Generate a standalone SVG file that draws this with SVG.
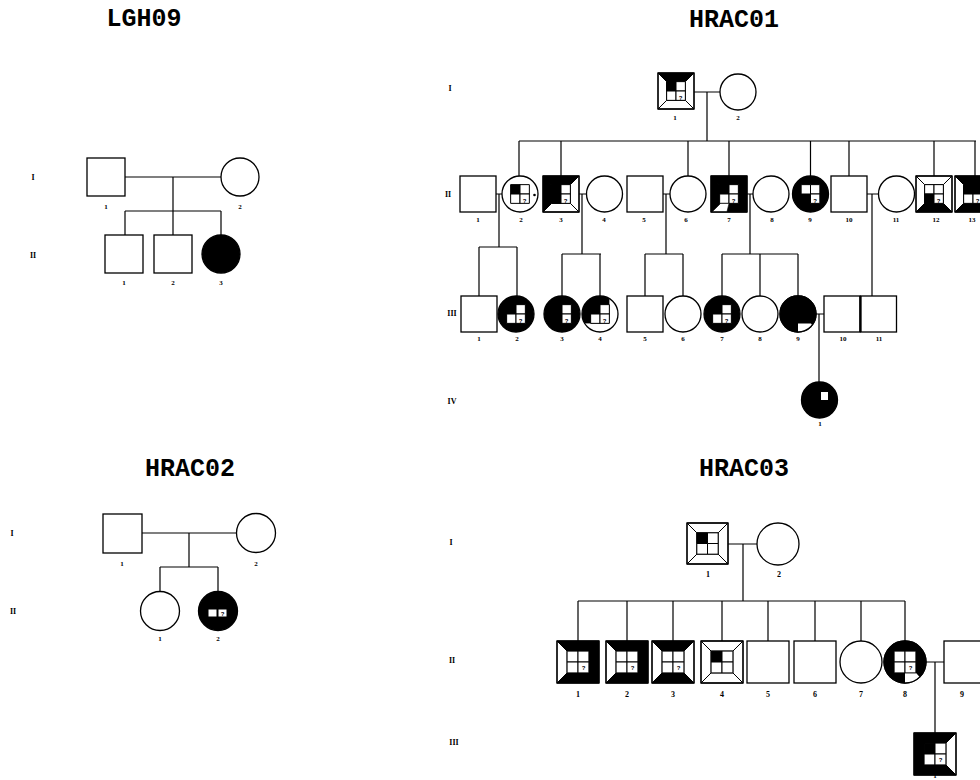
<svg xmlns="http://www.w3.org/2000/svg" width="980" height="780" viewBox="0 0 980 780">
  <style>
    .title{font-family:"Liberation Mono",monospace;font-weight:bold;font-size:25px;text-anchor:middle;fill:#000}
    .gen{font-family:"Liberation Serif",serif;font-weight:bold;font-size:8px;text-anchor:middle;fill:#000}
    .n{font-family:"Liberation Serif",serif;font-weight:bold;font-size:7px;text-anchor:middle;fill:#000}
    .n3{font-family:"Liberation Serif",serif;font-weight:bold;font-size:8px;text-anchor:middle;fill:#000}
    .q{font-family:"Liberation Sans",sans-serif;font-weight:bold;font-size:6px;text-anchor:middle;fill:#000}
    .sq{fill:#fff;stroke:#000;stroke-width:1.3}
    .af{fill:#000;stroke:#000;stroke-width:1.3}
    .ol{fill:none;stroke:#000;stroke-width:1.3}
    .k{fill:#000;stroke:#000;stroke-width:1}
    .w{fill:#fff;stroke:#000;stroke-width:1}
    .cn path{fill:none;stroke:#000;stroke-width:1.2}
  </style>
  <defs>
    <!-- bevelled frame pieces and inner quadrants on a 100x100 unit box -->
    <polygon id="tT" points="0,0 100,0 76,24 24,24" vector-effect="non-scaling-stroke"/>
    <polygon id="tB" points="0,100 100,100 76,76 24,76" vector-effect="non-scaling-stroke"/>
    <polygon id="tL" points="0,0 24,24 24,76 0,100" vector-effect="non-scaling-stroke"/>
    <polygon id="tR" points="100,0 76,24 76,76 100,100" vector-effect="non-scaling-stroke"/>
    <rect id="qTL" x="24" y="24" width="26" height="26" vector-effect="non-scaling-stroke"/>
    <rect id="qTR" x="50" y="24" width="26" height="26" vector-effect="non-scaling-stroke"/>
    <rect id="qBL" x="24" y="50" width="26" height="26" vector-effect="non-scaling-stroke"/>
    <rect id="qBR" x="50" y="50" width="26" height="26" vector-effect="non-scaling-stroke"/>
    <rect id="box" x="0" y="0" width="100" height="100" fill="none" vector-effect="non-scaling-stroke"/>
    <clipPath id="clipA4"><circle cx="600" cy="314" r="18"/></clipPath>
    <clipPath id="clipA9"><circle cx="798" cy="314" r="18"/></clipPath>
    <clipPath id="clipC8"><circle cx="905" cy="662" r="21"/></clipPath>
  </defs>

  <!-- ============ LGH09 ============ -->
  <text class="title" x="144" y="26">LGH09</text>
  <text class="gen" x="33" y="180">I</text>
  <text class="gen" x="33" y="258">II</text>
  <g class="cn" id="lgh09-lines">
    <path d="M125 177H221M173 177V211M125 211H221M125 211V235M173 211V235M221 211V235"/>
  </g>
  <g id="lgh09-I-1"><rect class="sq" x="87" y="158" width="38" height="38"/><text class="n" x="106" y="209">1</text></g>
  <g id="lgh09-I-2"><circle class="sq" cx="240" cy="177" r="19"/><text class="n" x="240" y="209">2</text></g>
  <g id="lgh09-II-1"><rect class="sq" x="105" y="235" width="38" height="38"/><text class="n" x="124" y="285">1</text></g>
  <g id="lgh09-II-2"><rect class="sq" x="154" y="235" width="38" height="38"/><text class="n" x="173" y="285">2</text></g>
  <g id="lgh09-II-3"><circle class="af" cx="221" cy="254" r="19"/><text class="n" x="221" y="285">3</text></g>

  <!-- ============ HRAC01 ============ -->
  <text class="title" x="734" y="27">HRAC01</text>
  <text class="gen" x="450" y="91">I</text>
  <text class="gen" x="448" y="197">II</text>
  <text class="gen" x="452" y="316">III</text>
  <text class="gen" x="452" y="404">IV</text>
  <g class="cn" id="hrac01-lines">
    <path d="M694 92H720M707 92V141M519 141H976"/>
    <path d="M519 141V176M561 141V176M688 141V176M729 141V176M810.5 141V176M849 141V176M934 141V176M975 141V176"/>
    <path d="M496 194H502M579 194H586.5M663 194H670M747 194H753M867 194H878.5"/>
    <path d="M499 194V247M479 247H517M479 247V296M517 247V296"/>
    <path d="M582 194V254M562 254H601M562 254V296M600 254V296"/>
    <path d="M666 194V254M645 254H683M645 254V296M683 254V296"/>
    <path d="M750 194V254M722 254H798M722 254V296M760 254V296M798 254V296"/>
    <path d="M872 194V296"/>
    <path d="M816 314H824M819 314V382"/>
  </g>

  <g id="hrac01-I-1">
    <g transform="translate(658,73) scale(0.36)">
      <use href="#tT" class="k"/><use href="#tL" class="w"/><use href="#tR" class="w"/><use href="#tB" class="w"/>
      <use href="#qTL" class="k"/><use href="#qTR" class="w"/><use href="#qBL" class="w"/><use href="#qBR" class="w"/>
      <use href="#box" class="ol"/>
    </g>
    <text class="q" x="680.7" y="100">?</text>
    <text class="n" x="675" y="120">1</text>
  </g>
  <g id="hrac01-I-2"><circle class="sq" cx="738" cy="92" r="18"/><text class="n" x="738" y="120">2</text></g>

  <g id="hrac01-II-1"><rect class="sq" x="460" y="176" width="36" height="36"/><text class="n" x="478" y="222">1</text></g>
  <g id="hrac01-II-2">
    <circle class="sq" cx="520" cy="194" r="18"/>
    <g transform="translate(502,176) scale(0.36)">
      <use href="#qTL" class="k"/><use href="#qTR" class="w"/><use href="#qBL" class="w"/><use href="#qBR" class="w"/>
    </g>
    <text class="q" x="524.7" y="203">?</text>
    <circle cx="534.5" cy="195" r="1.3" fill="#000"/>
    <text class="n" x="521" y="222">2</text>
  </g>
  <g id="hrac01-II-3">
    <g transform="translate(543,176) scale(0.36)">
      <use href="#tT" class="k"/><use href="#tL" class="k"/><use href="#tR" class="w"/><use href="#tB" class="w"/>
      <use href="#qTL" class="k"/><use href="#qTR" class="w"/><use href="#qBL" class="k"/><use href="#qBR" class="w"/>
      <use href="#box" class="ol"/>
    </g>
    <text class="q" x="565.7" y="203">?</text>
    <text class="n" x="561" y="222">3</text>
  </g>
  <g id="hrac01-II-4"><circle class="sq" cx="604.5" cy="194" r="18"/><text class="n" x="604" y="222">4</text></g>
  <g id="hrac01-II-5"><rect class="sq" x="627" y="176" width="36" height="36"/><text class="n" x="644" y="222">5</text></g>
  <g id="hrac01-II-6"><circle class="sq" cx="688" cy="194" r="18"/><text class="n" x="686" y="222">6</text></g>
  <g id="hrac01-II-7">
    <g transform="translate(711,176) scale(0.36)">
      <use href="#tT" class="k"/><use href="#tL" class="k"/><use href="#tR" class="k"/><use href="#tB" class="k"/>
      <use href="#qTL" class="k"/><use href="#qTR" class="w"/><use href="#qBL" class="w"/><use href="#qBR" class="w"/>
      <use href="#box" class="ol"/>
    </g>
    <polygon points="712.5,211.5 720.6,203.4 729,203.4 727,211.5" fill="#fff" stroke="#000" stroke-width="0.6"/>
    <text class="q" x="733.7" y="203">?</text>
    <circle cx="742" cy="192" r="0.9" fill="#000"/>
    <text class="n" x="729" y="222">7</text>
  </g>
  <g id="hrac01-II-8"><circle class="sq" cx="771" cy="194" r="18"/><text class="n" x="772" y="222">8</text></g>
  <g id="hrac01-II-9">
    <circle class="af" cx="810.5" cy="194" r="18"/>
    <g transform="translate(792.5,176) scale(0.36)">
      <use href="#qTL" class="w"/><use href="#qTR" class="w"/><use href="#qBR" class="w"/>
    </g>
    <text class="q" x="815.2" y="203">?</text>
    <text class="n" x="810" y="222">9</text>
  </g>
  <g id="hrac01-II-10"><rect class="sq" x="831" y="176" width="36" height="36"/><text class="n" x="849" y="222">10</text></g>
  <g id="hrac01-II-11"><circle class="sq" cx="896.5" cy="194" r="18"/><text class="n" x="896" y="222">11</text></g>
  <g id="hrac01-II-12">
    <g transform="translate(916,176) scale(0.36)">
      <use href="#tT" class="w"/><use href="#tL" class="w"/><use href="#tR" class="w"/><use href="#tB" class="k"/>
      <use href="#qTL" class="w"/><use href="#qTR" class="w"/><use href="#qBL" class="k"/><use href="#qBR" class="w"/>
      <use href="#box" class="ol"/>
    </g>
    <text class="q" x="938.7" y="203">?</text>
    <text class="n" x="936" y="222">12</text>
  </g>
  <g id="hrac01-II-13">
    <g transform="translate(955,176) scale(0.36)">
      <use href="#tT" class="k"/><use href="#tL" class="w"/><use href="#tR" class="k"/><use href="#tB" class="k"/>
      <use href="#qTL" class="k"/><use href="#qTR" class="k"/><use href="#qBL" class="w"/><use href="#qBR" class="w"/>
      <use href="#box" class="ol"/>
    </g>
    <text class="q" x="977.7" y="203">?</text>
    <text class="n" x="972" y="222">13</text>
  </g>

  <g id="hrac01-III-1"><rect class="sq" x="461" y="296" width="36" height="36"/><text class="n" x="479" y="341">1</text></g>
  <g id="hrac01-III-2">
    <circle class="af" cx="516" cy="314" r="18"/>
    <g transform="translate(498,296) scale(0.36)">
      <use href="#qTR" class="w"/><use href="#qBL" class="w"/><use href="#qBR" class="w"/>
    </g>
    <text class="q" x="520.7" y="323">?</text>
    <text class="n" x="517" y="341">2</text>
  </g>
  <g id="hrac01-III-3">
    <circle class="af" cx="562" cy="314" r="18"/>
    <g transform="translate(544,296) scale(0.36)">
      <use href="#qTR" class="w"/><use href="#qBR" class="w"/>
    </g>
    <text class="q" x="566.7" y="323">?</text>
    <text class="n" x="562" y="341">3</text>
  </g>
  <g id="hrac01-III-4">
    <circle cx="600" cy="314" r="18" fill="#fff"/>
    <rect x="582" y="296" width="27.4" height="27.4" fill="#000" clip-path="url(#clipA4)"/>
    <circle class="ol" cx="600" cy="314" r="18"/>
    <g transform="translate(582,296) scale(0.36)">
      <use href="#qTR" class="w"/><use href="#qBL" class="w"/><use href="#qBR" class="w"/>
    </g>
    <text class="q" x="604.7" y="323">?</text>
    <text class="n" x="600" y="341">4</text>
  </g>
  <g id="hrac01-III-5"><rect class="sq" x="627" y="296" width="36" height="36"/><text class="n" x="645" y="341">5</text></g>
  <g id="hrac01-III-6"><circle class="sq" cx="683" cy="314" r="18"/><text class="n" x="683" y="341">6</text></g>
  <g id="hrac01-III-7">
    <circle class="af" cx="722" cy="314" r="18"/>
    <g transform="translate(704,296) scale(0.36)">
      <use href="#qTR" class="w"/><use href="#qBL" class="w"/><use href="#qBR" class="w"/>
    </g>
    <text class="q" x="726.7" y="323">?</text>
    <text class="n" x="722" y="341">7</text>
  </g>
  <g id="hrac01-III-8"><circle class="sq" cx="760" cy="314" r="18"/><text class="n" x="760" y="341">8</text></g>
  <g id="hrac01-III-9">
    <circle class="af" cx="798" cy="314" r="18"/>
    <polygon points="798,323.4 811,323.4 818,333 798,333" fill="#fff" clip-path="url(#clipA9)"/>
    <circle class="ol" cx="798" cy="314" r="18"/>
    <text class="n" x="798" y="341">9</text>
  </g>
  <g id="hrac01-III-10"><rect class="sq" x="824" y="296" width="36" height="36"/><text class="n" x="843" y="341">10</text></g>
  <g id="hrac01-III-11">
    <rect class="sq" x="860.5" y="296" width="36" height="36"/>
    <path d="M860.5 296V332" stroke="#000" stroke-width="2.2"/>
    <text class="n" x="879" y="341">11</text>
  </g>
  <g id="hrac01-IV-1">
    <circle class="af" cx="819.5" cy="400" r="18"/>
    <rect x="821" y="392" width="7" height="8" fill="#fff"/>
    <text class="n" x="820" y="426">1</text>
  </g>

  <!-- ============ HRAC02 ============ -->
  <text class="title" x="190" y="476">HRAC02</text>
  <text class="gen" x="12" y="536">I</text>
  <text class="gen" x="13" y="614">II</text>
  <g class="cn" id="hrac02-lines">
    <path d="M142 533H237M189 533V567M160 567H218M160 567V591.5M218 567V591.5"/>
  </g>
  <g id="hrac02-I-1"><rect class="sq" x="103" y="514" width="39" height="39"/><text class="n" x="122" y="566">1</text></g>
  <g id="hrac02-I-2"><circle class="sq" cx="256" cy="533" r="19.5"/><text class="n" x="256" y="566">2</text></g>
  <g id="hrac02-II-1"><circle class="sq" cx="160" cy="611" r="19.5"/><text class="n" x="160" y="641">1</text></g>
  <g id="hrac02-II-2">
    <circle class="af" cx="218" cy="611" r="19.5"/>
    <rect x="208" y="609" width="9" height="8" class="w"/>
    <rect x="218" y="609" width="9" height="8" class="w"/>
    <text class="q" x="222.5" y="615.5">?</text>
    <text class="n" x="218" y="641">2</text>
  </g>

  <!-- ============ HRAC03 ============ -->
  <text class="title" x="744" y="476">HRAC03</text>
  <text class="gen" x="451" y="545">I</text>
  <text class="gen" x="452" y="663">II</text>
  <text class="gen" x="454" y="745">III</text>
  <g class="cn" id="hrac03-lines">
    <path d="M728 544H757M743 544V601M578 601H905"/>
    <path d="M578 601V641M627 601V641M673 601V641M722 601V641M768 601V641M815 601V641M861 601V641M905 601V641"/>
    <path d="M926 662H944M935 662V734"/>
  </g>
  <g id="hrac03-I-1">
    <g transform="translate(687,523) scale(0.41)">
      <use href="#tT" class="w"/><use href="#tL" class="w"/><use href="#tR" class="w"/><use href="#tB" class="w"/>
      <use href="#qTL" class="k"/><use href="#qTR" class="w"/><use href="#qBL" class="w"/><use href="#qBR" class="w"/>
      <use href="#box" class="ol"/>
    </g>
    <text class="n3" x="708" y="577">1</text>
  </g>
  <g id="hrac03-I-2"><circle class="sq" cx="778" cy="544" r="21"/><text class="n3" x="779" y="577">2</text></g>

  <g id="hrac03-II-1">
    <g transform="translate(557,641) scale(0.42)">
      <use href="#tT" class="k"/><use href="#tL" class="w"/><use href="#tR" class="k"/><use href="#tB" class="k"/>
      <use href="#qTL" class="w"/><use href="#qTR" class="w"/><use href="#qBL" class="w"/><use href="#qBR" class="w"/>
      <use href="#box" class="ol"/>
    </g>
    <text class="q" x="583.5" y="670">?</text>
    <text class="n3" x="578" y="697">1</text>
  </g>
  <g id="hrac03-II-2">
    <g transform="translate(606,641) scale(0.42)">
      <use href="#tT" class="k"/><use href="#tL" class="w"/><use href="#tR" class="k"/><use href="#tB" class="k"/>
      <use href="#qTL" class="w"/><use href="#qTR" class="w"/><use href="#qBL" class="w"/><use href="#qBR" class="w"/>
      <use href="#box" class="ol"/>
    </g>
    <text class="q" x="632.5" y="670">?</text>
    <text class="n3" x="627" y="697">2</text>
  </g>
  <g id="hrac03-II-3">
    <g transform="translate(652,641) scale(0.42)">
      <use href="#tT" class="k"/><use href="#tL" class="w"/><use href="#tR" class="w"/><use href="#tB" class="k"/>
      <use href="#qTL" class="w"/><use href="#qTR" class="w"/><use href="#qBL" class="w"/><use href="#qBR" class="w"/>
      <use href="#box" class="ol"/>
    </g>
    <text class="q" x="678.5" y="670">?</text>
    <text class="n3" x="673" y="697">3</text>
  </g>
  <g id="hrac03-II-4">
    <g transform="translate(701,641) scale(0.42)">
      <use href="#tT" class="w"/><use href="#tL" class="w"/><use href="#tR" class="w"/><use href="#tB" class="w"/>
      <use href="#qTL" class="k"/><use href="#qTR" class="w"/><use href="#qBL" class="w"/><use href="#qBR" class="w"/>
      <use href="#box" class="ol"/>
    </g>
    <text class="n3" x="722" y="697">4</text>
  </g>
  <g id="hrac03-II-5"><rect class="sq" x="747" y="641" width="42" height="42"/><text class="n3" x="768" y="697">5</text></g>
  <g id="hrac03-II-6"><rect class="sq" x="794" y="641" width="42" height="42"/><text class="n3" x="815" y="697">6</text></g>
  <g id="hrac03-II-7"><circle class="sq" cx="861" cy="662" r="21"/><text class="n3" x="861" y="697">7</text></g>
  <g id="hrac03-II-8">
    <circle class="af" cx="905" cy="662" r="21"/>
    <polygon points="905,672.9 916,672.9 928,686 905,686" fill="#fff" clip-path="url(#clipC8)"/>
    <circle class="ol" cx="905" cy="662" r="21"/>
    <g transform="translate(884,641) scale(0.42)">
      <use href="#qTL" class="w"/><use href="#qTR" class="w"/><use href="#qBL" class="w"/><use href="#qBR" class="w"/>
    </g>
    <text class="q" x="910.5" y="670">?</text>
    <text class="n3" x="905" y="697">8</text>
  </g>
  <g id="hrac03-II-9"><rect class="sq" x="944" y="641" width="42" height="42"/><text class="n3" x="962" y="697">9</text></g>
  <g id="hrac03-III-1">
    <g transform="translate(914,733) scale(0.42)">
      <use href="#tT" class="k"/><use href="#tL" class="k"/><use href="#tR" class="w"/><use href="#tB" class="k"/>
      <use href="#qTL" class="k"/><use href="#qTR" class="w"/><use href="#qBL" class="w"/><use href="#qBR" class="w"/>
      <use href="#box" class="ol"/>
    </g>
    <text class="q" x="940.5" y="762">?</text>
    <text class="n" x="935" y="778">1</text>
  </g>
</svg>
